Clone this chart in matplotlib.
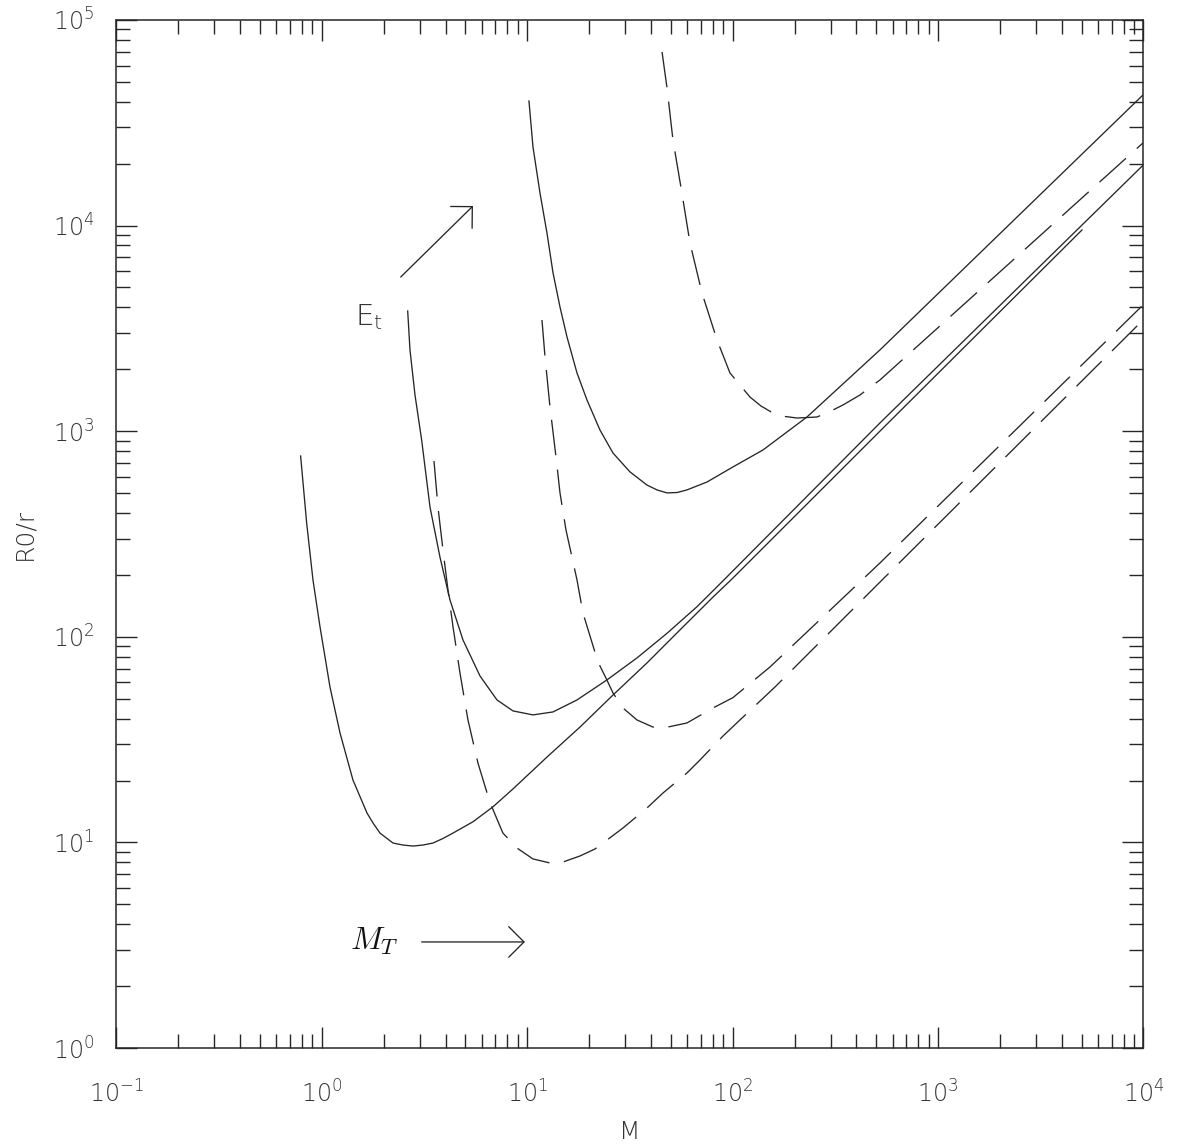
import numpy as np
import matplotlib
matplotlib.use("Agg")
import matplotlib.pyplot as plt
from matplotlib.ticker import FuncFormatter, LogLocator, NullFormatter

plt.rcParams['font.family'] = ['DejaVu Sans']
plt.rcParams['font.weight'] = 'light'
plt.rcParams['mathtext.fontset'] = 'custom'
plt.rcParams['mathtext.rm'] = 'DejaVu Sans:light'
plt.rcParams['mathtext.it'] = 'DejaVu Sans:italic:light'

# solid curves (M, R0/r)
m_a = [0.788, 0.843, 0.905, 0.979, 1.095, 1.225, 1.417, 1.658, 1.774, 1.918, 2.219, 2.482,
       2.777, 3.106, 3.475, 3.887, 4.348, 5.44, 6.81, 8.52, 12.47, 18.06, 26.14, 38.26,
       55.4, 80.2, 99.2, 521, 5020]
r_a = [757, 358, 189, 112, 57.0, 34.1, 20.1, 13.9, 12.43, 11.1, 9.93, 9.71,
       9.60, 9.71, 9.93, 10.45, 11.1, 12.6, 14.9, 18.2, 26.0, 36.4, 52.1, 74.6,
       108, 156, 191, 1000, 9520]

m_b = [2.617, 2.685, 2.84, 3.06, 3.36, 3.758, 4.205, 4.864, 5.885, 7.12, 8.52,
       10.66, 13.34, 17.46, 24.43, 34.2, 47.9, 67.0, 88.7, 521, 10000]
r_b = [3842, 2483, 1500, 906, 428, 244, 151, 96.5, 64.5, 49.3, 43.6,
       41.7, 43.1, 49.3, 61.7, 78.9, 104, 140, 185, 1096, 19750]

m_c = [10.19, 10.66, 11.53, 12.47, 13.34, 14.43, 15.61, 17.46, 19.53, 22.59, 26.14,
       31.62, 38.26, 42.8, 47.9, 53.56, 59.9, 75.0, 100.3, 140.4, 229.9, 521, 10000]
r_c = [40360, 24120, 14410, 9204, 5900, 4018, 2872, 1919, 1418, 1013, 783,
       634, 547, 518, 501, 503, 518, 566, 670, 810, 1172, 2483, 43400]

# dashed curves
m_d1 = [3.514, 3.674, 3.887, 4.111, 4.348, 4.702, 5.143, 5.754, 6.58, 7.61, 8.91,
        10.66, 12.9, 14.92, 18.06, 21.36, 24.43, 29.23, 38.26, 45.78, 59.9, 69.3, 89.7,
        108.5, 160.7, 551, 10000]
r_d1 = [716, 428, 264, 169, 112, 66.7, 39.4, 24.3, 15.65, 11.1, 9.39,
        8.31, 7.94, 8.03, 8.59, 9.29, 10.27, 11.75, 14.70, 17.39, 21.76, 25.17, 32.9,
        39.4, 57.0, 195, 3490]

m_d2 = [11.79, 12.2, 12.9, 13.8, 14.43, 15.43, 17.46, 18.67, 22.09, 24.16, 26.14,
        29.23, 34.2, 40.9, 48.4, 59.9, 80.2, 100.3, 151.9, 521, 10000]
r_d2 = [3474, 2296, 1312, 749, 501, 331, 189, 130.5, 75.4, 63.0, 53.3,
        45.05, 39.4, 36.4, 36.4, 38.1, 45.05, 50.6, 71.3, 228.5, 4130]

m_d3 = [45.3, 47.9, 51.2, 56.6, 61.96, 70.9, 83.9, 97.0, 121.4, 137.3, 157.1, 179.8,
        205.6, 257.3, 297.7, 344.4, 416.7, 521, 10000]
r_d3 = [69890, 46700, 26080, 14410, 8230, 4700, 2777, 1919, 1466, 1326, 1226, 1179,
        1159, 1172, 1247, 1341, 1500, 1774, 25350]

# arrows and their labels
et_tail = (2.42, 5620)
et_head = (5.44, 12450)
et_text = (1.45, 3285)
mt_tail = (3.06, 3.28)
mt_head = (9.74, 3.28)
mt_text = (1.37, 3.0)

ink = '#262626'
txt = '#333333'

fig = plt.figure(figsize=(11.91, 11.47), dpi=100)
ax = fig.add_axes([0.0978, 0.0863, 0.8623, 0.8963])
ax.set_xscale('log')
ax.set_yscale('log')
ax.set_xlim(1e-1, 1e4)
ax.set_ylim(1e0, 1e5)

for m, r in [(m_a, r_a), (m_b, r_b), (m_c, r_c)]:
    ax.plot(m, r, color=ink, lw=0.95, solid_joinstyle='round')
for m, r in [(m_d1, r_d1), (m_d2, r_d2), (m_d3, r_d3)]:
    ax.plot(m, r, color=ink, lw=0.95, dashes=(27, 11), dash_capstyle='butt')

arrow = dict(arrowstyle='->,head_length=0.55,head_width=0.55', mutation_scale=20,
             color=ink, lw=0.95, shrinkA=0, shrinkB=0)
ax.annotate('', xy=et_head, xytext=et_tail, arrowprops=arrow)
ax.annotate('', xy=mt_head, xytext=mt_tail, arrowprops=arrow)
ax.text(et_text[0], et_text[1], r'E$_{\mathrm{t}}$', fontsize=21, color=txt,
        ha='left', va='baseline', fontweight='light')
ax.text(mt_text[0], mt_text[1], r'$M_T$', fontsize=23, color='#111111',
        ha='left', va='baseline', math_fontfamily='cm')

ax.set_xticks([1e-1, 1e0, 1e1, 1e2, 1e3, 1e4])
ax.set_yticks([1e0, 1e1, 1e2, 1e3, 1e4, 1e5])
fmt = FuncFormatter(lambda v, p: r'$10^{%d}$' % int(round(np.log10(v))))
ax.xaxis.set_major_formatter(fmt)
ax.yaxis.set_major_formatter(fmt)
sub = LogLocator(base=10, subs=np.arange(2, 10))
ax.xaxis.set_minor_locator(sub)
ax.yaxis.set_minor_locator(sub)
ax.xaxis.set_minor_formatter(NullFormatter())
ax.yaxis.set_minor_formatter(NullFormatter())

ax.tick_params(which='both', direction='in', top=True, right=True, color=ink,
               labelcolor=txt, labelsize=17)
ax.tick_params(which='major', length=15, width=1.0)
ax.tick_params(which='minor', length=10, width=1.0)
ax.tick_params(axis='x', which='major', pad=23)
ax.tick_params(axis='y', which='major', pad=16)
for s in ax.spines.values():
    s.set_linewidth(1.1)
    s.set_color(ink)

ax.set_xlabel('M', fontsize=18, color=txt, labelpad=9, fontweight='light')
ax.set_ylabel('R0/r', fontsize=18, color=txt, labelpad=12, fontweight='light')

fig.savefig('out.png', dpi=100)
plt.close(fig)
